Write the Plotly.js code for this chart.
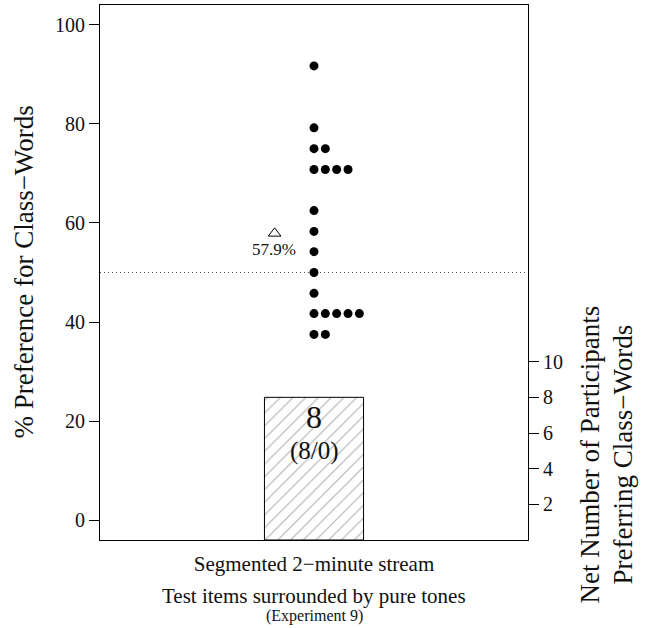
<!DOCTYPE html>
<html>
<head>
<meta charset="utf-8">
<script src="https://cdn.plot.ly/plotly-3.0.1.min.js"></script>
<style>body{margin:0;padding:0;background:#fff}#chart{width:646px;height:628px}</style>
</head>
<body>
<div id="chart"></div>
<script>
// ---- data ----
const conditionLabel = "Segmented 2\u2212minute stream";
const subtitle = "Test items surrounded by pure tones";
const experimentLabel = "(Experiment 9)";
// individual participants' % preference for class-words
const pctValues = [91.7, 79.2, 75.0, 75.0, 70.8, 70.8, 70.8, 70.8, 62.5, 58.3, 54.2, 50.0, 45.8,
                   41.7, 41.7, 41.7, 41.7, 41.7, 37.5, 37.5];
// stack position of each dot within its value row (0 = leftmost)
const stackIndex = [0, 0, 0, 1, 0, 1, 2, 3, 0, 0, 0, 0, 0, 0, 1, 2, 3, 4, 0, 1];
const meanPct = [57.9];
const netCount = [8];
const preferCount = [8];
const againstCount = [0];
const chanceLevel = 50;
const leftTicks = [0, 20, 40, 60, 80, 100];
const rightTicks = [2, 4, 6, 8, 10];

// ---- layout helpers (positions only) ----
const xCenter = 1;
const dotStep = 0.053;
const meanOffset = -0.184;
const FONT = "Liberation Serif, Times New Roman, serif";

const dotX = stackIndex.map(i => xCenter + i * dotStep);

const traces = [
  {
    type: "bar",
    x: [xCenter],
    y: netCount,
    width: [0.463],
    yaxis: "y2",
    marker: {
      color: "white",
      line: {color: "black", width: 1},
      pattern: {shape: "/", fgcolor: "#b0b0b0", bgcolor: "white", size: 9, solidity: 0.12}
    },
    hoverinfo: "skip",
    showlegend: false
  },
  {
    type: "scatter",
    mode: "markers",
    x: dotX,
    y: pctValues,
    marker: {color: "black", size: 9, symbol: "circle"},
    showlegend: false
  },
  {
    type: "scatter",
    mode: "markers",
    x: [xCenter + meanOffset],
    y: meanPct,
    marker: {color: "black", size: 11, symbol: "triangle-up-open", line: {width: 1}},
    showlegend: false
  }
];

const annotations = [
  {xref: "x", yref: "y", x: xCenter + meanOffset, y: meanPct[0], text: meanPct[0].toFixed(1) + "%",
   showarrow: false, yshift: -16, xshift: -1, font: {family: FONT, size: 17, color: "#111"}},
  {xref: "x", yref: "y2", x: xCenter, y: netCount[0], text: String(netCount[0]),
   showarrow: false, yanchor: "top", yshift: 0, font: {family: FONT, size: 32, color: "#111"}},
  {xref: "x", yref: "y2", x: xCenter, y: netCount[0], text: "(" + preferCount[0] + "/" + againstCount[0] + ")",
   showarrow: false, yanchor: "top", yshift: -38, font: {family: FONT, size: 25, color: "#111"}},
  {xref: "paper", yref: "paper", x: 0, xshift: -77, y: 0.5, text: "% Preference for Class\u2212Words",
   textangle: -90, showarrow: false, xanchor: "center", yanchor: "middle", font: {family: FONT, size: 27, color: "#111"}},
  {xref: "paper", yref: "paper", x: 1, xshift: 62, y: 0.16, text: "Net Number of Participants",
   textangle: -90, showarrow: false, xanchor: "center", yanchor: "middle", font: {family: FONT, size: 27, color: "#111"}},
  {xref: "paper", yref: "paper", x: 1, xshift: 95, y: 0.16, text: "Preferring Class\u2212Words",
   textangle: -90, showarrow: false, xanchor: "center", yanchor: "middle", font: {family: FONT, size: 27, color: "#111"}},
  {xref: "paper", yref: "paper", x: 0.5, y: -0.1047, text: subtitle, showarrow: false,
   yanchor: "middle", font: {family: FONT, size: 21, color: "#111"}},
  {xref: "paper", yref: "paper", x: 0.5, y: -0.142, text: experimentLabel, showarrow: false,
   yanchor: "middle", font: {family: FONT, size: 16, color: "#111"}}
];

const layout = {
  width: 646, height: 628,
  margin: {l: 100, r: 118, t: 5, b: 88},
  paper_bgcolor: "white", plot_bgcolor: "white",
  font: {family: FONT, size: 20, color: "#111"},
  showlegend: false,
  xaxis: {
    range: [0, 2], tickvals: [xCenter], ticktext: [conditionLabel], ticks: "",
    ticklabelstandoff: 5,
    showline: true, linecolor: "black", linewidth: 1, mirror: true,
    showgrid: false, zeroline: false, fixedrange: true,
    tickfont: {family: FONT, size: 21, color: "#111"}
  },
  yaxis: {
    range: [-4, 104], tickvals: leftTicks, ticks: "outside", ticklen: 10, tickcolor: "black",
    showline: true, linecolor: "black", linewidth: 1, mirror: true,
    showgrid: false, zeroline: false,
    tickfont: {family: FONT, size: 20, color: "#111"}
  },
  yaxis2: {
    overlaying: "y", side: "right", range: [0, 30], tickvals: rightTicks,
    ticks: "outside", ticklen: 10, tickcolor: "black", showline: false,
    showgrid: false, zeroline: false,
    tickfont: {family: FONT, size: 20, color: "#111"}
  },
  shapes: [
    {type: "line", xref: "paper", yref: "y", x0: 0, x1: 1, y0: chanceLevel, y1: chanceLevel,
     line: {color: "#555", width: 1, dash: "1px,3px"}, layer: "below"}
  ],
  annotations: annotations
};

Plotly.newPlot("chart", traces, layout, {displayModeBar: false, staticPlot: true});
</script>
</body>
</html>
